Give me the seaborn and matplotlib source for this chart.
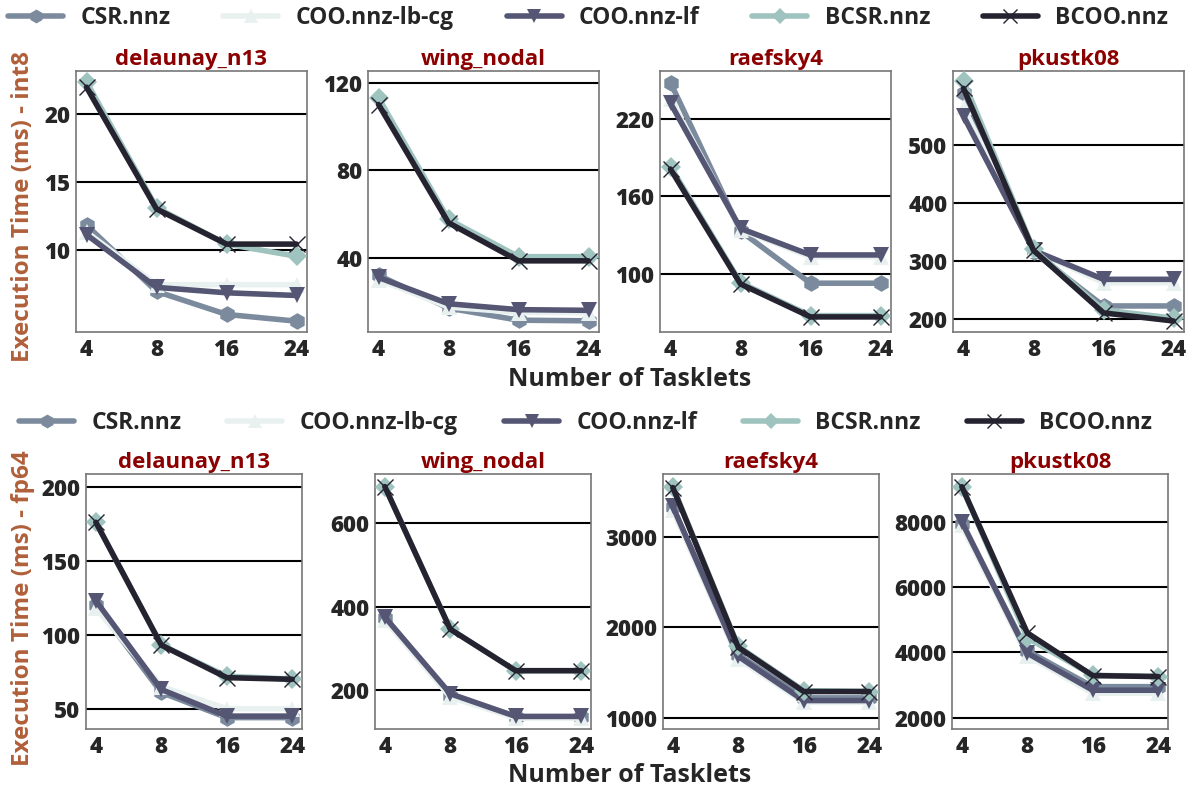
import matplotlib
matplotlib.use("Agg")
import matplotlib.pyplot as plt
import numpy as np
import seaborn as sns
from matplotlib.lines import Line2D

sns.set_style("white")
plt.rcParams["font.family"] = ["Open Sans", "DejaVu Sans"]
plt.rcParams["font.weight"] = "bold"

tasklets = ["4", "8", "16", "24"]
matrices = ["delaunay_n13", "wing_nodal", "raefsky4", "pkustk08"]
formats = ["CSR.nnz", "COO.nnz-lb-cg", "COO.nnz-lf", "BCSR.nnz", "BCOO.nnz"]

# int8 execution times (ms), one list per format per matrix
int8_csr = [[11.8, 6.9, 5.2, 4.7], [32, 17, 11.5, 11.2], [248, 133, 92.6, 92.6], [590, 315, 222, 222]]
int8_coo_lb = [[11.3, 7.4, 7.4, 7.4], [30, 17.5, 15, 15], [235, 134, 113, 113], [565, 318, 262, 262]]
int8_coo_lf = [[11.1, 7.2, 6.8, 6.6], [31, 19, 16.3, 16], [232, 135, 114.5, 114.5], [550, 318, 268, 268]]
int8_bcsr = [[22.4, 13.1, 10.4, 9.5], [113, 57.5, 40.5, 40.5], [183, 93, 67.5, 67.5], [611, 320, 215, 201]]
int8_bcoo = [[22.0, 13.0, 10.4, 10.4], [110, 56, 38.6, 38.6], [181, 92, 66.5, 66.5], [598, 318, 210, 196]]

# fp64 execution times (ms)
fp64_csr = [[120, 61, 44, 44], [372, 186, 136, 136], [3330, 1700, 1220, 1220], [7950, 4050, 2950, 2950]]
fp64_coo_lb = [[118, 65, 50, 50], [368, 184, 134, 134], [3300, 1650, 1170, 1170], [7900, 3900, 2750, 2750]]
fp64_coo_lf = [[123, 63, 45, 45], [375, 192, 138, 138], [3340, 1680, 1190, 1190], [8010, 3980, 2840, 2840]]
fp64_bcsr = [[176, 93, 72, 70], [686, 346, 247, 247], [3560, 1790, 1300, 1290], [9090, 4450, 3300, 3260]]
fp64_bcoo = [[176, 93, 71, 69.9], [686, 346, 247, 247], [3550, 1780, 1290, 1290], [9090, 4600, 3290, 3260]]

int8_ylims = [(3.9, 23.2), (6.1, 125.3), (54.8, 257), (177, 628)]
int8_yticks = [[10, 15, 20], [40, 80, 120], [100, 160, 220], [200, 300, 400, 500]]
fp64_ylims = [(36.3, 208.6), (108, 716), (875, 3700), (1650, 9480)]
fp64_yticks = [[50, 100, 150, 200], [200, 400, 600], [1000, 2000, 3000], [2000, 4000, 6000, 8000]]

colors = ["#7b8b9d", "#e8f1ef", "#555574", "#9fc3bf", "#24232f"]
markers = ["h", "^", "v", "D", "x"]
msizes = [12, 12, 12, 10, 12]

fig = plt.figure(figsize=(11.92, 7.91), dpi=100)
W, H = 1192.0, 791.0

rows = [
    dict(data=[int8_csr, int8_coo_lb, int8_coo_lf, int8_bcsr, int8_bcoo], ylims=int8_ylims,
         yticks=int8_yticks, top=71, bottom=332, lefts=[76, 368, 660, 953], width=231,
         ylabel="Execution Time (ms) - int8", ylab_y=206, xlab_y=380,
         leg_x0=8, leg_x1=1168, leg_y=18),
    dict(data=[fp64_csr, fp64_coo_lb, fp64_coo_lf, fp64_bcsr, fp64_bcoo], ylims=fp64_ylims,
         yticks=fp64_yticks, top=474, bottom=729, lefts=[86, 375, 663, 952], width=216,
         ylabel="Execution Time (ms) - fp64", ylab_y=608, xlab_y=775,
         leg_x0=19, leg_x1=1152, leg_y=423),
]

xpos = np.arange(len(tasklets))
for row in rows:
    for m, mat in enumerate(matrices):
        ax = fig.add_axes([row["lefts"][m] / W, 1 - row["bottom"] / H,
                           row["width"] / W, (row["bottom"] - row["top"]) / H])
        for f in range(len(formats)):
            sns.lineplot(x=xpos, y=row["data"][f][m], ax=ax, color=colors[f],
                         marker=markers[f], markersize=msizes[f], linewidth=4,
                         markeredgewidth=1 if markers[f] == "x" else 0,
                         markeredgecolor=colors[f], zorder=3 + f)
        ax.set_xlim(-0.15, 3.15)
        ax.set_ylim(*row["ylims"][m])
        ax.set_xticks(xpos)
        ax.set_xticklabels(tasklets)
        ax.set_yticks(row["yticks"][m])
        ax.yaxis.grid(True, color="black", linewidth=1.5)
        ax.set_axisbelow(True)
        ax.tick_params(labelsize=16, length=0, pad=4)
        for lab in ax.get_xticklabels() + ax.get_yticklabels():
            lab.set_fontweight(800)
        for sp in ax.spines.values():
            sp.set_color("#777777")
            sp.set_linewidth(1.2)
        ax.set_title(mat, color="#8b0000", fontsize=16, fontweight="bold", pad=4)
    fig.text(23 / W, 1 - row["ylab_y"] / H, row["ylabel"], rotation=90, ha="center",
             va="center", color="#b0603a", fontsize=17.5, fontweight="bold")
    fig.text(630 / W, 1 - row["xlab_y"] / H, "Number of Tasklets", ha="center",
             va="center", fontsize=18, fontweight="bold")
    handles = [Line2D([0], [0], color=colors[f], marker=markers[f], markersize=msizes[f] - 2,
                      linewidth=4, markeredgewidth=1 if markers[f] == "x" else 0,
                      markeredgecolor=colors[f]) for f in range(len(formats))]
    x0 = row["leg_x0"] / W
    fig.legend(handles, formats, loc="center", ncol=5, frameon=False, mode="expand",
               bbox_to_anchor=(x0, 1 - row["leg_y"] / H - 0.02,
                               (row["leg_x1"] - row["leg_x0"]) / W, 0.04),
               prop=dict(size=16.5, weight="bold"), borderpad=0, borderaxespad=0,
               handlelength=2.4, columnspacing=2.0, handletextpad=0.75)

fig.savefig("out.png", dpi=100)
